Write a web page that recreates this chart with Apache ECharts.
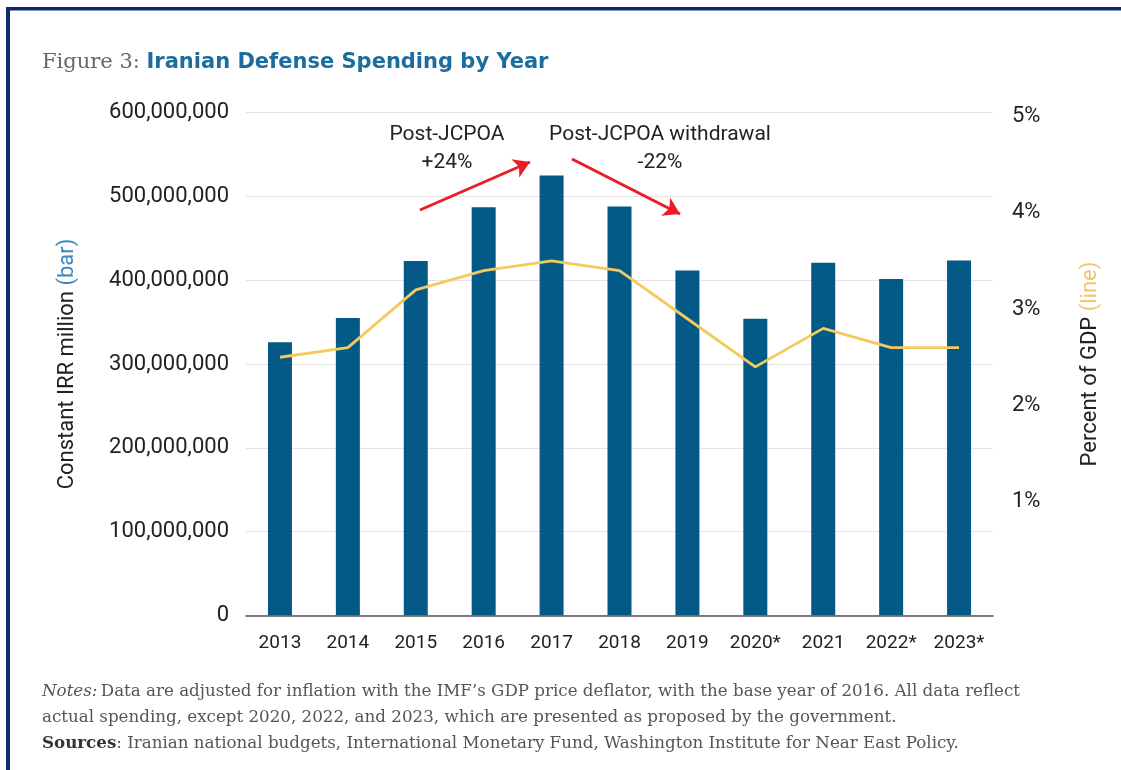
<!DOCTYPE html>
<html>
<head>
<meta charset="utf-8">
<script src="https://cdn.jsdelivr.net/npm/echarts@6/dist/echarts.min.js"></script>
<style>
html,body{margin:0;padding:0;background:#fff;}
#chart{width:1121px;height:770px;}
</style>
</head>
<body>
<div id="chart"></div>
<script>
const years = ['2013','2014','2015','2016','2017','2018','2019','2020*','2021','2022*','2023*'];
const spending = [326000000, 355000000, 423000000, 487000000, 525000000, 488000000, 411500000, 354000000, 421000000, 401500000, 423500000];
const gdpShare = [2.5, 2.6, 3.2, 3.4, 3.5, 3.4, 2.9, 2.4, 2.8, 2.6, 2.6];
const leftTicks = [0, 100000000, 200000000, 300000000, 400000000, 500000000, 600000000];
const rightTicks = [1, 2, 3, 4, 5];

const COND = "Roboto,'Liberation Sans Narrow','DejaVu Sans Condensed',sans-serif";
const SERIF = "'DejaVu Serif','Liberation Serif',serif";

const chart = echarts.init(document.getElementById('chart'), null, {renderer:'canvas'});

const option = {
  animation: false,
  backgroundColor: '#fff',
  grid: {left: 246, right: 128, top: 112.7, bottom: 154.7, containLabel: false},
  xAxis: {
    type: 'category',
    data: years,
    axisLine: {show: true, lineStyle: {color: '#555', width: 1.5}},
    axisTick: {show: false},
    axisLabel: {interval: 0, fontFamily: COND, fontSize: 19, color: '#222', margin: 18}
  },
  yAxis: [
    {
      type: 'value',
      min: leftTicks[0],
      max: leftTicks[leftTicks.length-1],
      interval: 100000000,
      axisLine: {show: false},
      axisTick: {show: false},
      splitLine: {lineStyle: {color: '#e3e3e3', width: 1.2}},
      axisLabel: {
        fontFamily: COND, fontSize: 22, color: '#222', margin: 17,
        formatter: v => v.toLocaleString('en-US')
      },
      name: '{a|Constant IRR million }{b|(bar)}',
      nameLocation: 'middle',
      nameRotate: 90,
      nameGap: 168,
      nameTextStyle: {
        rich: {
          a: {fontFamily: COND, fontSize: 22, color: '#222'},
          b: {fontFamily: COND, fontSize: 22, color: '#3a88bd'}
        }
      }
    },
    {
      type: 'value',
      min: -0.18,
      max: 5.04,
      position: 'right',
      axisLine: {show: false},
      axisTick: {show: false},
      splitLine: {show: false},
      axisLabel: {
        customValues: rightTicks,
        fontFamily: COND, fontSize: 22, color: '#222', margin: 19,
        formatter: v => v + '%'
      },
      name: '{a|Percent of GDP }{b|(line)}',
      nameLocation: 'middle',
      nameRotate: 90,
      nameGap: 86,
      nameTextStyle: {
        rich: {
          a: {fontFamily: COND, fontSize: 22, color: '#222'},
          b: {fontFamily: COND, fontSize: 22, color: '#f3c56a'}
        }
      }
    }
  ],
  series: [
    {
      type: 'bar',
      data: spending,
      barWidth: 24,
      itemStyle: {color: '#035a86'},
      markLine: {
        silent: true,
        symbol: ['none', 'arrow'],
        symbolSize: [15, 16],
        label: {show: false},
        lineStyle: {color: '#ec1c24', width: 3, type: 'solid'},
        data: [
          [{x: 420, y: 210}, {x: 530, y: 162}],
          [{x: 572, y: 159}, {x: 680, y: 214}]
        ]
      }
    },
    {
      type: 'line',
      yAxisIndex: 1,
      data: gdpShare,
      symbol: 'none',
      lineStyle: {color: '#f4c95d', width: 2.8},
      itemStyle: {color: '#f4c95d'},
      z: 5
    }
  ],
  graphic: [
    {type: 'rect', shape: {x: 6, y: 7, width: 1115, height: 3.5}, style: {fill: '#0d2a6b'}},
    {type: 'rect', shape: {x: 6, y: 7, width: 4, height: 763}, style: {fill: '#0d2a6b'}},
    {
      type: 'text', left: 42, top: 52,
      style: {
        text: '{a|Figure 3: }{b|Iranian Defense Spending by Year}',
        rich: {
          a: {fontFamily: SERIF, fontSize: 21, fill: '#666'},
          b: {fontFamily: "'DejaVu Sans','Open Sans',sans-serif", fontSize: 21, fontWeight: 'bold', fill: '#1a6d9e'}
        }
      }
    },
    {type: 'text', x: 447, y: 135, style: {text: 'Post-JCPOA', fontFamily: COND, fontSize: 21, fill: '#222', align: 'center', verticalAlign: 'middle'}},
    {type: 'text', x: 447, y: 163, style: {text: '+24%', fontFamily: COND, fontSize: 21, fill: '#222', align: 'center', verticalAlign: 'middle'}},
    {type: 'text', x: 660, y: 135, style: {text: 'Post-JCPOA withdrawal', fontFamily: COND, fontSize: 21, fill: '#222', align: 'center', verticalAlign: 'middle'}},
    {type: 'text', x: 660, y: 163, style: {text: '-22%', fontFamily: COND, fontSize: 21, fill: '#222', align: 'center', verticalAlign: 'middle'}},
    {
      type: 'text', left: 42, top: 683,
      style: {
        text: '{i|Notes:} {n|Data are adjusted for inflation with the IMF\u2019s GDP price deflator, with the base year of 2016. All data reflect}\n{n|actual spending, except 2020, 2022, and 2023, which are presented as proposed by the government.}\n{s|Sources}{n|: Iranian national budgets, International Monetary Fund, Washington Institute for Near East Policy.}',
        rich: {
          i: {fontFamily: SERIF, fontStyle: 'italic', fontSize: 16.7, fill: '#555', lineHeight: 26},
          n: {fontFamily: SERIF, fontSize: 16.7, fill: '#555', lineHeight: 26},
          s: {fontFamily: SERIF, fontSize: 16.7, fontWeight: 'bold', fill: '#333', lineHeight: 26}
        }
      }
    }
  ]
};
chart.setOption(option);
</script>
</body>
</html>
